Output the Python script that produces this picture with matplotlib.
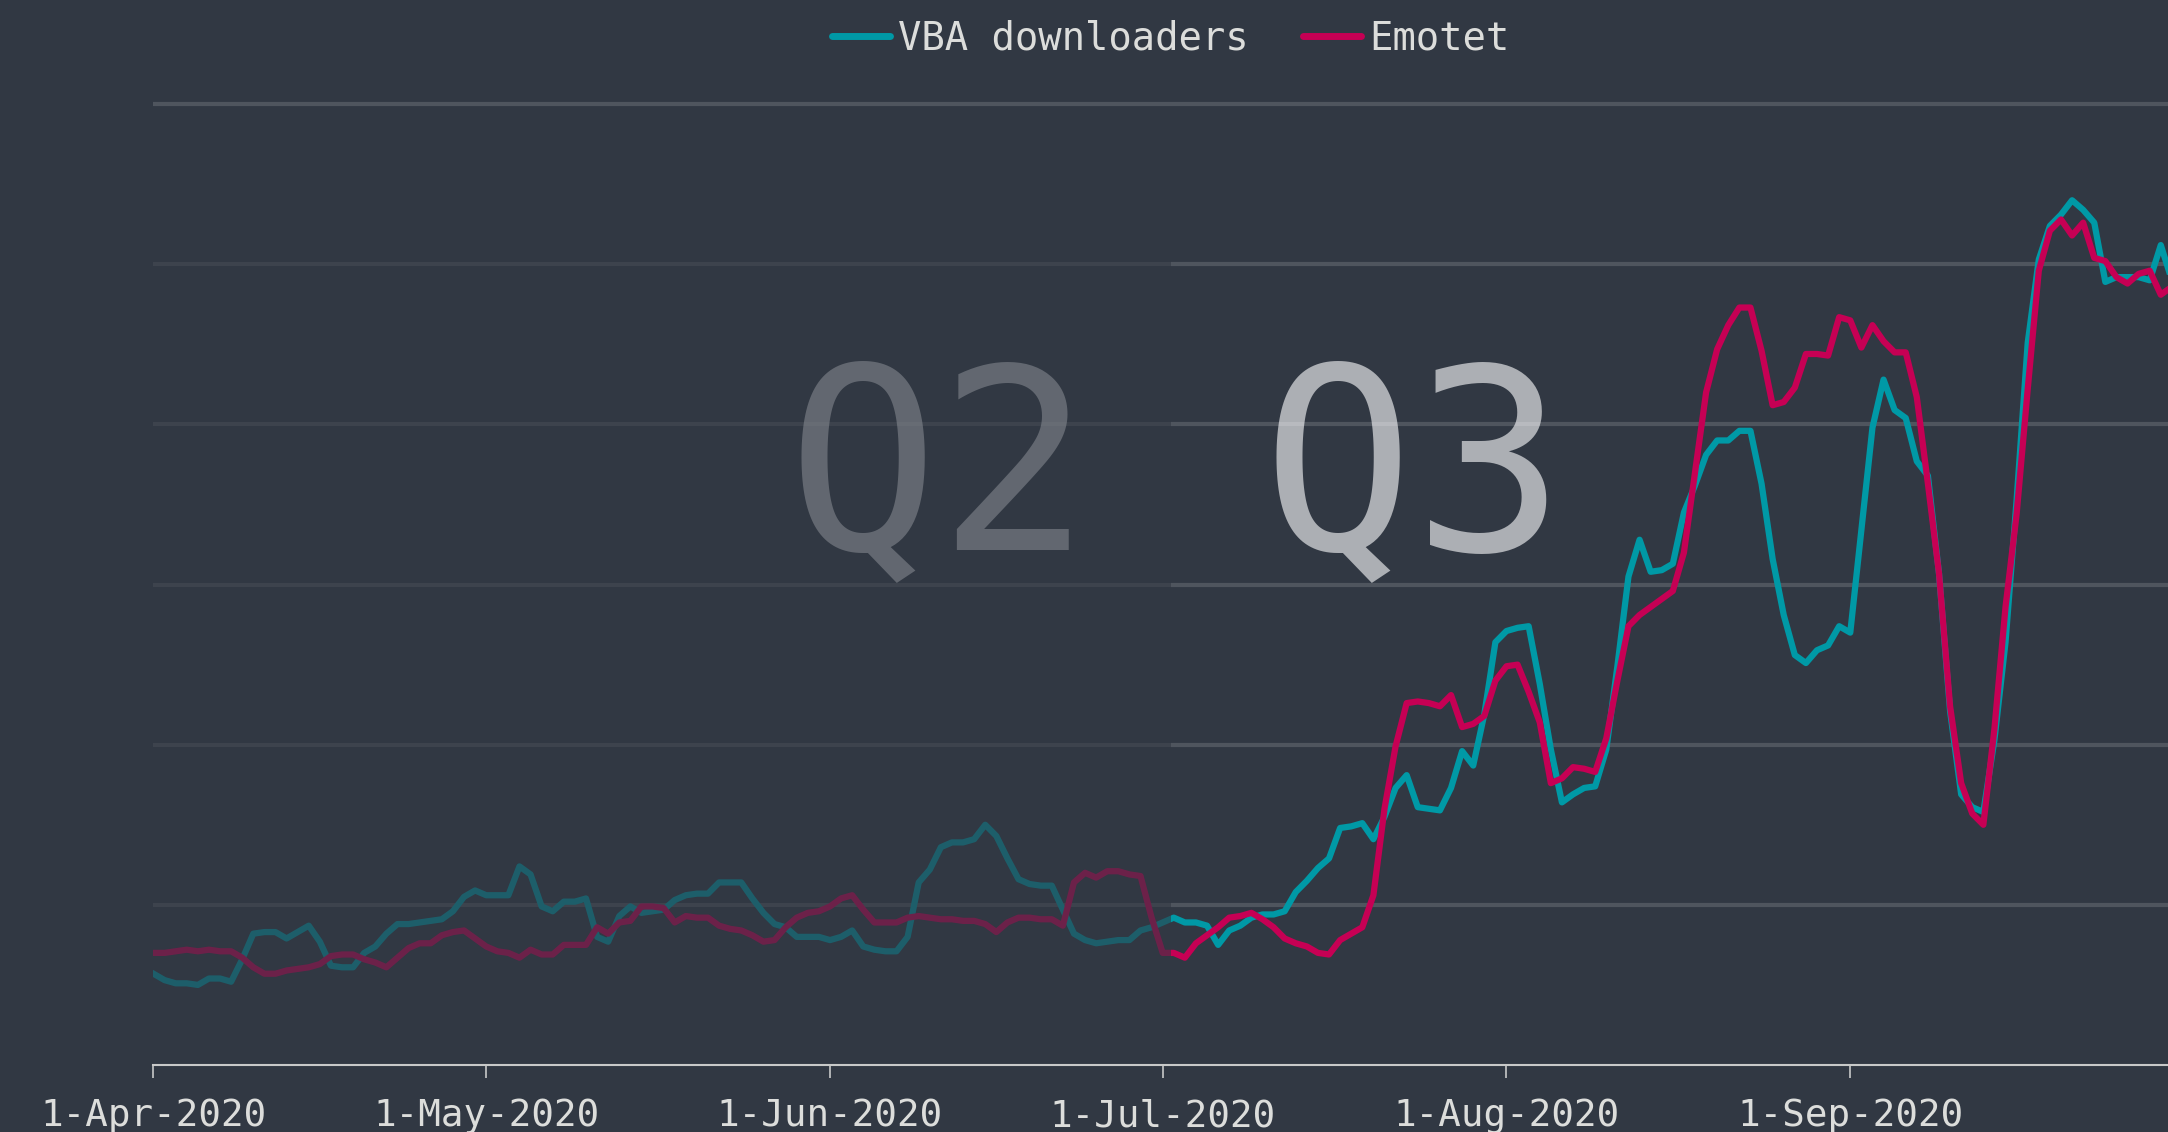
import pandas as pd
import matplotlib.pyplot as plt
from matplotlib.lines import Line2D

# daily values, 1-Apr-2020 .. 30-Sep-2020
start = '2020-04-01'
vba = [57, 53, 51, 51, 50, 54, 54, 52, 66, 82,
       83, 83, 79, 83, 87, 77, 62, 61, 61, 70,
       74, 82, 88, 88, 89, 90, 91, 96, 105, 109,
       106, 106, 106, 124, 119, 99, 96, 102, 102, 104,
       80, 77, 93, 99, 95, 96, 97, 103, 106, 107,
       107, 114, 114, 114, 104, 95, 88, 86, 80, 80,
       80, 78, 80, 84, 74, 72, 71, 71, 80, 114,
       122, 136, 139, 139, 141, 150, 143, 129, 116, 113,
       112, 112, 97, 82, 78, 76, 77, 78, 78, 84,
       86, 89, 92, 89, 89, 87, 75, 84, 87, 92,
       94, 94, 96, 108, 115, 123, 129, 148, 149, 151,
       141, 155, 173, 181, 161, 160, 159, 173, 196, 187,
       219, 264, 271, 273, 274, 238, 197, 164, 169, 173,
       174, 197, 249, 305, 328, 308, 309, 313, 345, 362,
       381, 390, 390, 396, 396, 363, 316, 281, 256, 251,
       259, 262, 274, 270, 334, 398, 428, 409, 404, 377,
       368, 307, 221, 169, 161, 158, 203, 264, 353, 451,
       503, 524, 531, 540, 534, 526, 489, 492, 492, 492,
       490, 512, 490]
emotet = [70, 70, 71, 72, 71, 72, 71, 71, 67, 61,
          57, 57, 59, 60, 61, 63, 68, 69, 69, 66,
          64, 61, 67, 73, 76, 76, 81, 83, 84, 79,
          74, 71, 70, 67, 72, 69, 69, 75, 75, 75,
          86, 82, 89, 90, 99, 99, 98, 89, 93, 92,
          92, 87, 85, 84, 81, 77, 78, 86, 92, 95,
          96, 99, 104, 106, 97, 89, 89, 89, 92, 93,
          92, 91, 91, 90, 90, 88, 83, 89, 92, 92,
          91, 91, 87, 114, 120, 117, 121, 121, 119, 118,
          92, 70, 70, 67, 76, 81, 86, 92, 93, 95,
          91, 86, 79, 76, 74, 70, 69, 78, 82, 86,
          106, 160, 199, 226, 227, 226, 224, 231, 211, 213,
          218, 240, 249, 250, 233, 214, 176, 179, 186, 185,
          183, 204, 240, 274, 281, 286, 291, 296, 320, 370,
          420, 447, 462, 473, 473, 446, 412, 414, 423, 444,
          444, 443, 467, 465, 448, 462, 452, 445, 445, 417,
          363, 307, 224, 176, 157, 150, 210, 286, 344, 422,
          496, 521, 528, 518, 526, 504, 502, 492, 488, 494,
          496, 481, 486]

tick_dates = ['2020-04-01', '2020-05-01', '2020-06-01', '2020-07-01', '2020-08-01', '2020-09-01']
tick_labels = ['1-Apr-2020', '1-May-2020', '1-Jun-2020', '1-Jul-2020', '1-Aug-2020', '1-Sep-2020']
series_names = ['VBA downloaders', 'Emotet']
quarters = ['Q2', 'Q3']

bg = '#313843'
teal = '#0099a6'
pink = '#c60054'
qcol = '#acafb4'
txt = '#dcdddb'

days = pd.date_range(start, periods=len(vba), freq='D')
t0 = pd.Timestamp(start)

fig = plt.figure(figsize=(21.68, 11.32), dpi=100, facecolor=bg)
ax = fig.add_axes([0.0708, 0.0592, 0.9292, 0.870])
ax.set_facecolor(bg)

ax.plot(days, vba, color=teal, lw=4.5, solid_joinstyle='round', zorder=2)
ax.plot(days, emotet, color=pink, lw=4.5, solid_joinstyle='round', zorder=2)

# big quarter labels sit behind the grid
for q, off in zip(quarters, [70.8, 113.6]):
    ax.text(t0 + pd.Timedelta(days=off), 322, q, color=qcol, fontsize=182,
            family='DejaVu Sans Mono', ha='center', va='baseline', zorder=0.3)

ax.set_xlim(t0, t0 + pd.Timedelta(days=181.65))
ax.set_ylim(0, 615)
ax.set_yticks([100, 200, 300, 400, 500, 600])
ax.yaxis.grid(True, color='white', alpha=0.15, lw=3)
ax.set_axisbelow(True)
ax.tick_params(axis='y', left=False, labelleft=False)

ax.set_xticks(pd.to_datetime(tick_dates))
ax.set_xticklabels(tick_labels)
ax.tick_params(axis='x', colors='#c8c9c9', length=9, width=1.2, pad=15,
               labelsize=27, labelcolor=txt)
for lab in ax.get_xticklabels():
    lab.set_family('DejaVu Sans Mono')

for s in ['left', 'right', 'top']:
    ax.spines[s].set_visible(False)
ax.spines['bottom'].set_color('#c8c9c9')
ax.spines['bottom'].set_linewidth(1.5)
ax.spines['bottom'].set_zorder(5)

# dim the Q2 part of the chart (top line stays bright)
ax.axvspan(t0, t0 + pd.Timedelta(days=91.75), ymin=0.002, ymax=585 / 615,
           color=bg, alpha=0.6, lw=0, zorder=3)

handles = [Line2D([], [], color=teal, lw=5, solid_capstyle='round'),
           Line2D([], [], color=pink, lw=5, solid_capstyle='round')]
leg = fig.legend(handles, series_names, loc='center', ncol=2,
                 bbox_to_anchor=(0.54, 1 - 39 / 1132), frameon=False,
                 prop={'family': 'DejaVu Sans Mono', 'size': 28},
                 handlelength=1.5, handletextpad=0.2, columnspacing=1.4,
                 labelcolor=txt)

fig.savefig('out.png', dpi=100, facecolor=bg)
